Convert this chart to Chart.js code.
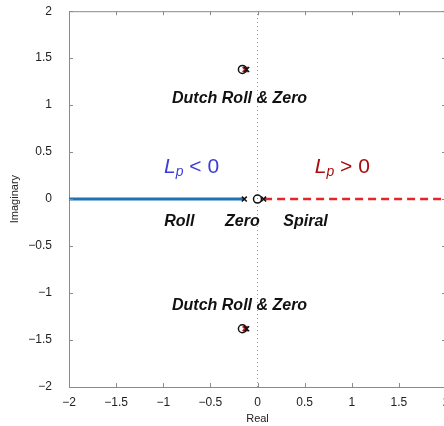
<!DOCTYPE html>
<html>
<head>
<meta charset="utf-8">
<script src="https://cdn.jsdelivr.net/npm/chart.js@4.4.1/dist/chart.umd.min.js"></script>
<style>
  html, body { margin:0; padding:0; background:#fff; overflow:hidden; }
  #wrap { width:460px; height:431px; margin-top:-5px; }
</style>
</head>
<body>
<div id="wrap"><canvas id="rootLocus"></canvas></div>
<script>
// ---- data ----
const AXIS_TICKS = [-2, -1.5, -1, -0.5, 0, 0.5, 1, 1.5, 2];
const rollBranch   = [[-2, 0], [-0.14, 0]];          // Lp < 0 locus on the real axis
const spiralBranch = [[0.07, 0], [2, 0]];            // Lp > 0 locus on the real axis
const zeroAxis     = [[0, -2], [0, 2]];
const polesBlack   = [[-0.14, 0], [0.065, 0], [-0.115, 1.38], [-0.115, -1.38]];
const polesRed     = [[-0.13, 1.38], [-0.13, -1.38]];
const zerosO       = [[0, 0], [-0.16, 1.38], [-0.16, -1.38]];

const LABELS = [
  { text:'Dutch Roll & Zero', x:-0.19, y: 1.075 },
  { text:'Dutch Roll & Zero', x:-0.19, y:-1.13 },
  { text:'Roll',   x:-0.83, y:-0.235 },
  { text:'Zero',   x:-0.16, y:-0.235 },
  { text:'Spiral', x: 0.51, y:-0.235 },
];
const LP_LABELS = [
  { op:'<', x:-0.70, y:0.34, color:'#3c3cd8' },
  { op:'>', x: 0.90, y:0.34, color:'#a80c0c' },
];

const pts = arr => arr.map(([x, y]) => ({ x, y }));
const FONT = "'Liberation Sans', Arial, Helvetica, sans-serif";
const fmt = v => (v < 0 ? '\u2212' + Math.abs(v) : String(v));

// frame + inward tick marks on all four sides, plus the text annotations
const framePlugin = {
  id: 'frame',
  afterDraw(chart) {
    const { ctx, chartArea: a, scales: { x, y } } = chart;
    ctx.save();
    ctx.strokeStyle = '#8a8a8a';
    ctx.lineWidth = 1;
    ctx.beginPath();
    ctx.moveTo(a.left, a.top + 0.5); ctx.lineTo(a.right, a.top + 0.5);
    ctx.moveTo(a.right - 0.5, a.top); ctx.lineTo(a.right - 0.5, a.bottom);
    AXIS_TICKS.forEach(v => {
      const px = Math.round(x.getPixelForValue(v)) + 0.5;
      const py = Math.round(y.getPixelForValue(v)) + 0.5;
      ctx.moveTo(px, a.bottom); ctx.lineTo(px, a.bottom - 4);
      ctx.moveTo(px, a.top);    ctx.lineTo(px, a.top + 4);
      ctx.moveTo(a.left, py);   ctx.lineTo(a.left + 4, py);
      ctx.moveTo(a.right, py);  ctx.lineTo(a.right - 4, py);
    });
    ctx.stroke();

    ctx.fillStyle = '#111';
    ctx.textAlign = 'center';
    ctx.textBaseline = 'middle';
    ctx.font = 'italic bold 16px ' + FONT;
    LABELS.forEach(l => ctx.fillText(l.text, x.getPixelForValue(l.x), y.getPixelForValue(l.y)));

    LP_LABELS.forEach(l => {
      const parts = [
        { t:'L',  f:'italic 21px ' + FONT, dy:0 },
        { t:'p',  f:'italic 14px ' + FONT, dy:5 },
        { t:' ' + l.op + ' 0', f:'21px ' + FONT, dy:0 },
      ];
      let w = 0;
      parts.forEach(p => { ctx.font = p.f; p.w = ctx.measureText(p.t).width; w += p.w; });
      let cx = x.getPixelForValue(l.x) - w / 2;
      const cy = y.getPixelForValue(l.y);
      ctx.fillStyle = l.color;
      ctx.textAlign = 'left';
      parts.forEach(p => { ctx.font = p.f; ctx.fillText(p.t, cx, cy + p.dy); cx += p.w; });
    });
    ctx.restore();
  }
};

new Chart(document.getElementById('rootLocus'), {
  type: 'scatter',
  data: {
    datasets: [
      { data: pts(zeroAxis), showLine:true, borderColor:'#9a9a9a', borderWidth:1, borderDash:[1, 3], pointRadius:0, order:5 },
      { data: pts(rollBranch), showLine:true, borderColor:'#1f72b4', borderWidth:3, pointRadius:0, order:4 },
      { data: pts(spiralBranch), showLine:true, borderColor:'#e3262b', borderWidth:2.5, borderDash:[8, 5], pointRadius:0, order:4 },
      { data: pts(polesRed), pointStyle:'crossRot', pointRadius:3.5, borderColor:'#d01c1c', borderWidth:2, order:3 },
      { data: pts(zerosO), pointStyle:'circle', pointRadius:4, borderColor:'#111', backgroundColor:'rgba(0,0,0,0)', borderWidth:1.5, order:2 },
      { data: pts(polesBlack), pointStyle:'crossRot', pointRadius:3.5, borderColor:'#111', borderWidth:1.5, order:1 },
    ]
  },
  options: {
    responsive: true,
    maintainAspectRatio: false,
    animation: false,
    layout: { padding: { top: 2, right: 14, left: 0, bottom: 0 } },
    plugins: { legend: { display:false }, tooltip: { enabled:false } },
    elements: { point: { hoverRadius: 3.5 } },
    scales: {
      x: {
        type: 'linear', min: -2, max: 2,
        afterBuildTicks: s => { s.ticks = AXIS_TICKS.map(v => ({ value: v })); },
        afterFit: s => { s.height = 39; },
        grid: { display: false },
        border: { display: true, color: '#8a8a8a', width: 1 },
        ticks: { color: '#222', font: { family: FONT, size: 12 }, padding: 0, maxRotation: 0, callback: fmt },
        title: { display: true, text: 'Real', color: '#222', font: { family: FONT, size: 11 }, padding: { top: 0, bottom: 0 } }
      },
      y: {
        type: 'linear', min: -2, max: 2,
        afterBuildTicks: s => { s.ticks = AXIS_TICKS.map(v => ({ value: v })); },
        afterFit: s => { s.width = 69; },
        grid: { display: false },
        border: { display: true, color: '#8a8a8a', width: 1 },
        ticks: { color: '#222', font: { family: FONT, size: 12 }, padding: 9, callback: fmt },
        title: { display: true, text: 'Imaginary', color: '#222', font: { family: FONT, size: 11 }, padding: { top: 8, bottom: 0 } }
      }
    }
  },
  plugins: [framePlugin]
});
</script>
</body>
</html>
